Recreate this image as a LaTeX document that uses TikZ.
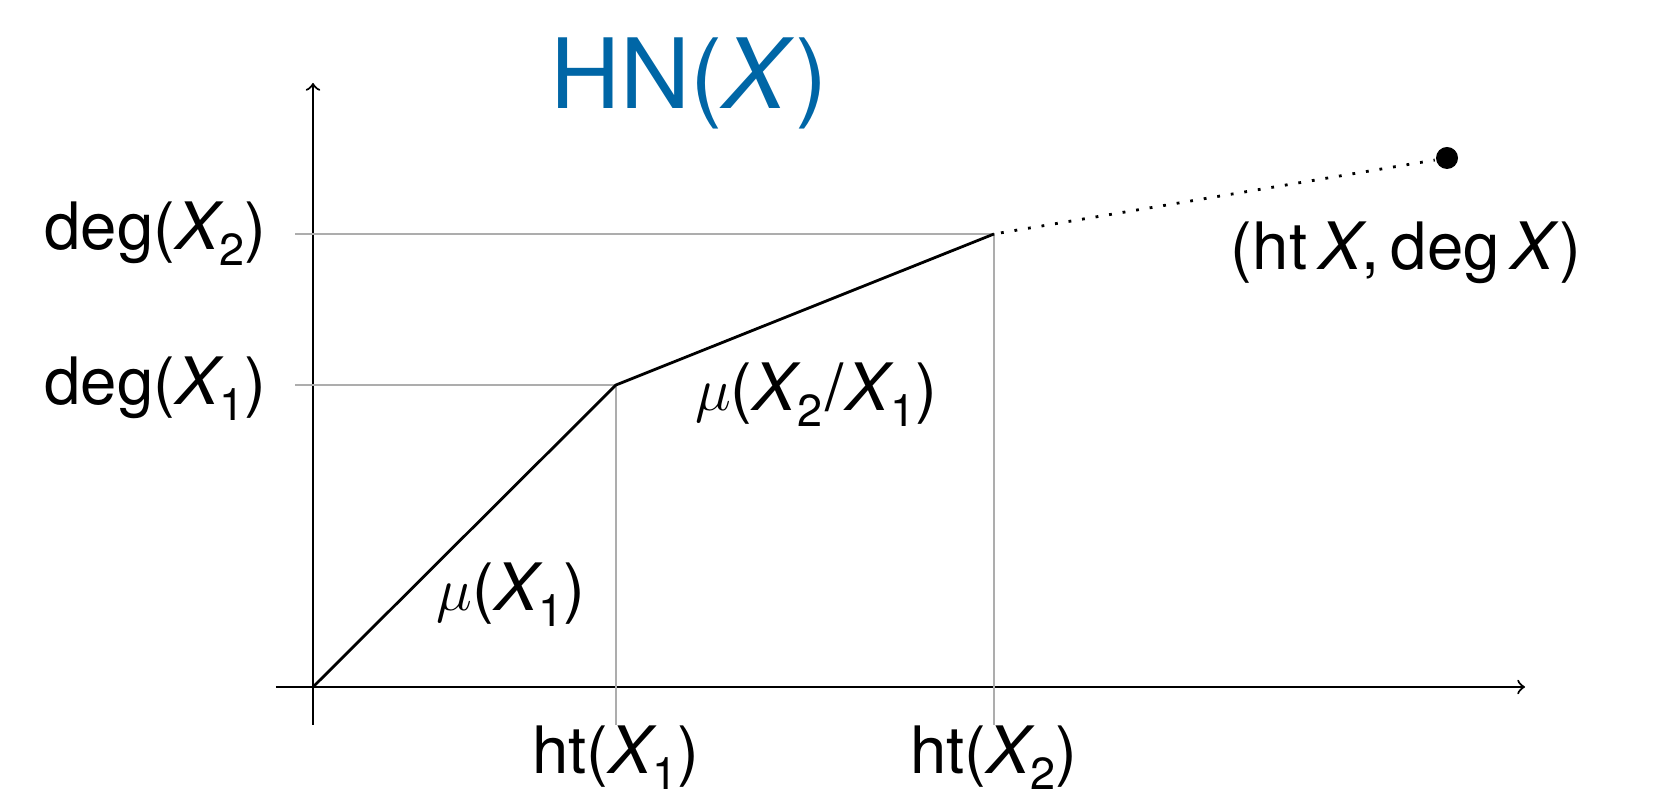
\documentclass[tikz,border=0pt]{standalone}
\usepackage{amsmath}
\usepackage{fontspec}
\setmainfont{TeX Gyre Heros}
\usepackage{tikz}

\definecolor{hnblue}{RGB}{0,102,166}
\newcommand{\Xsub}[1]{\textit{X}\kern-1.2pt\raisebox{-4.3pt}{\fontsize{12.8}{14}\selectfont #1}}

\begin{document}
\begin{tikzpicture}[>=to, thick,
  every node/.style={font=\fontsize{18.6}{22}\selectfont},
  axis/.style={->, line width=0.6pt},
  guide/.style={black!32, line width=0.5pt},
  polygon/.style={line width=0.8pt},
  dot/.style={circle, fill, inner sep=0pt, minimum size=0.22cm}]

  \useasboundingbox (-3.13,-1.08) rectangle (13.53,6.87);

  % axes
  \coordinate (O) at (0,0);
  \coordinate (xl) at (-0.37,0);
  \coordinate (xr) at (12.12,0);
  \coordinate (yb) at (0,-0.38);
  \coordinate (yt) at (0,6.04);
  \draw[axis] (xl) -- (xr);
  \draw[axis] (yb) -- (yt);

  % HN polygon
  \coordinate (P1) at (3.03,3.02);
  \coordinate (P2) at (6.81,4.53);
  \node[dot] (P) at (11.34,5.29) {};

  \coordinate (P1x) at (3.03,-0.38);
  \coordinate (P2x) at (6.81,-0.38);
  \coordinate (P1y) at (-0.18,3.02);
  \coordinate (P2y) at (-0.18,4.53);
  \draw[guide] (P1y) -- (P1) -- (P1x);
  \draw[guide] (P2y) -- (P2) -- (P2x);

  \draw[polygon] (O) -- (P1) -- (P2);
  \draw[line width=0.8pt, dash pattern=on 0.8pt off 3.1pt, dash phase=-2pt] (P2) -- (P);

  % labels
  \node[text=hnblue, font=\fontsize{27.6}{32}\selectfont, anchor=base] (title) at (3.76,5.78) {HN(\textit{X})};
  \node[anchor=base east, inner sep=0pt] (deg2) at (-0.45,4.37) {deg(\Xsub{2})};
  \node[anchor=base east, inner sep=0pt] (deg1) at (-0.45,2.82) {deg(\Xsub{1})};
  \node[anchor=base, inner sep=0pt] (ht1) at (3.03,-0.87) {ht(\Xsub{1})};
  \node[anchor=base, inner sep=0pt] (ht2) at (6.81,-0.87) {ht(\Xsub{2})};
  \node[anchor=base, inner sep=0pt] (mu1) at (1.98,0.76) {$\mu$(\Xsub{1})};
  \node[anchor=base, inner sep=0pt] (mu2) at (5.03,2.76) {$\mu$(\Xsub{2}\kern1pt/\kern0.5pt\Xsub{1})};
  \node[anchor=base, inner sep=0pt] (htdeg) at (10.93,4.17) {(ht\,\textit{X},\,deg\,\textit{X})};

\end{tikzpicture}
\end{document}
